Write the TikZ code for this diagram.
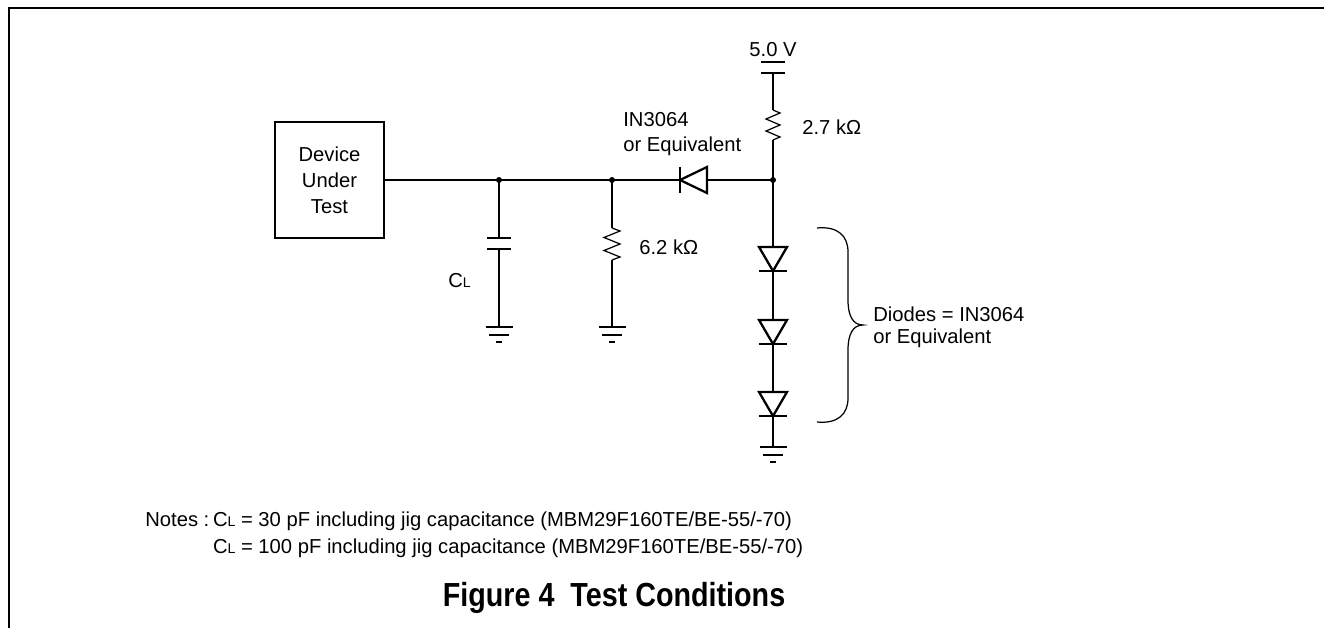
\documentclass[tikz,border=0pt]{standalone}
\usepackage{fontspec}
\setmainfont{Liberation Sans}
\newfontfamily\capfont[FakeStretch=0.86]{Liberation Sans}
\usetikzlibrary{calc,positioning}
\newcommand\CL{C{\fontsize{8}{8}\selectfont L}}

\begin{document}
\begin{tikzpicture}[x=0.02cm,y=-0.02cm,
  wire/.style={line width=0.7pt},
  plate/.style={line width=1.5pt},
  part/.style={line width=1.3pt},
  dot/.style={circle,fill,inner sep=0pt,minimum size=0.12cm},
  lbl/.style={inner sep=0pt,font=\fontsize{11.5}{14.5}\selectfont},
  ]
  \useasboundingbox (0,0) rectangle (1324,628);

  % frame
  \draw[line width=1pt] (9,628) -- (9,8) -- (1324,8);

  % device under test
  \node (dut) [draw,wire,rectangle,minimum width=2.18cm,minimum height=2.32cm,
    align=center,font=\fontsize{11.5}{14.8}\selectfont] at (329.5,180) {Device\\Under\\Test};

  % junctions and terminals
  \coordinate (j1) at (499,180);
  \coordinate (j2) at (612,180);
  \coordinate (j3) at (773,180);
  \coordinate (vtop) at (773,73);
  \coordinate (r1a) at (773,110);
  \coordinate (r1b) at (773,140);
  \coordinate (c1a) at (499,238);
  \coordinate (c1b) at (499,249);
  \coordinate (cg) at (499,327);
  \coordinate (r2a) at (612,228);
  \coordinate (r2b) at (612,260);
  \coordinate (rg) at (612,327);
  \coordinate (dg) at (773,447);

  % wires
  \draw[wire] (dut.east) -- (j1) -- (j2) -- (j3);
  \draw[wire] (vtop) -- (r1a);
  \draw[wire] (r1b) -- (j3) -- (dg);
  \draw[wire] (j1) -- (c1a);
  \draw[wire] (c1b) -- (cg);
  \draw[wire] (j2) -- (r2a);
  \draw[wire] (r2b) -- (rg);

  % resistors
  \draw[wire] (r1a) -- ++(7,3) -- ++(-14,6) -- ++(14,6) -- ++(-14,6) -- ++(14,6) -- (r1b);
  \draw[wire] (r2a) -- ++(8,3) -- ++(-16,6.5) -- ++(16,6.5) -- ++(-16,6.5) -- ++(16,6.5) -- (r2b);

  % capacitor and supply
  \draw[plate] ($(c1a)+(-12,0)$) -- ($(c1a)+(12,0)$);
  \draw[plate] ($(c1b)+(-12,0)$) -- ($(c1b)+(12,0)$);
  \draw[plate] (761,62) -- (785,62);
  \draw[plate] (761,73) -- (785,73);

  % grounds
  \foreach \g in {cg,rg,dg}{
    \draw[plate] ($(\g)+(-13.5,0)$) -- ($(\g)+(13.5,0)$);
    \draw[plate] ($(\g)+(-10,8)$) -- ($(\g)+(10,8)$);
    \draw[plate] ($(\g)+(-3,15)$) -- ($(\g)+(3,15)$);
  }

  % diodes
  \draw[part,fill=white] (680,180) -- (707,167) -- (707,193) -- cycle;
  \draw[part] (680,167) -- (680,193);
  \foreach \t in {247,320,392}{
    \draw[part,fill=white] (759,\t) -- (787,\t) -- (773,\t+24) -- cycle;
    \draw[part] (759,\t+24) -- (787,\t+24);
  }

  % dots
  \node[dot] at (j1) {};
  \node[dot] at (j2) {};
  \node[dot] at (j3) {};

  % brace
  \draw[wire] (817,228) .. controls (838,226) and (848,236) .. (848,252) -- (848,300)
    .. controls (848,316) and (853,325) .. (863,325)
    .. controls (853,325) and (848,334) .. (848,350) -- (848,398)
    .. controls (848,414) and (838,424) .. (817,422);

  % labels
  \node[lbl] (vcc) at (773,50) {5.0 V};
  \node[lbl,anchor=west] (r1lbl) at (802,127) {2.7 kΩ};
  \node[lbl,anchor=west] (r2lbl) at (639,247) {6.2 kΩ};
  \node[lbl,anchor=west,align=left,font=\fontsize{11.5}{14.2}\selectfont] (d0lbl) at (623,134) {IN3064\\or Equivalent};
  \node[lbl,anchor=west] (cllbl) at (448,281) {\CL};
  \node[lbl,anchor=west,align=left,font=\fontsize{11.5}{12.5}\selectfont] (dlbl) at (873,327.5) {Diodes = IN3064\\or Equivalent};

  % notes
  \node[lbl,anchor=base west] (notehead) at (145,526) {Notes :};
  \node[lbl,anchor=base west] (note1) at ($(notehead.base east)+(3,0)$) {\CL\ = 30 pF including jig capacitance (MBM29F160TE/BE-55/-70)};
  \node[lbl,anchor=base west] (note2) at ($(note1.base west)+(0,27)$) {\CL\ = 100 pF including jig capacitance (MBM29F160TE/BE-55/-70)};

  \node (caption) [inner sep=0pt,font=\capfont\bfseries\fontsize{19}{21}\selectfont] at (614,598) {Figure 4\ \ Test Conditions};
\end{tikzpicture}
\end{document}
